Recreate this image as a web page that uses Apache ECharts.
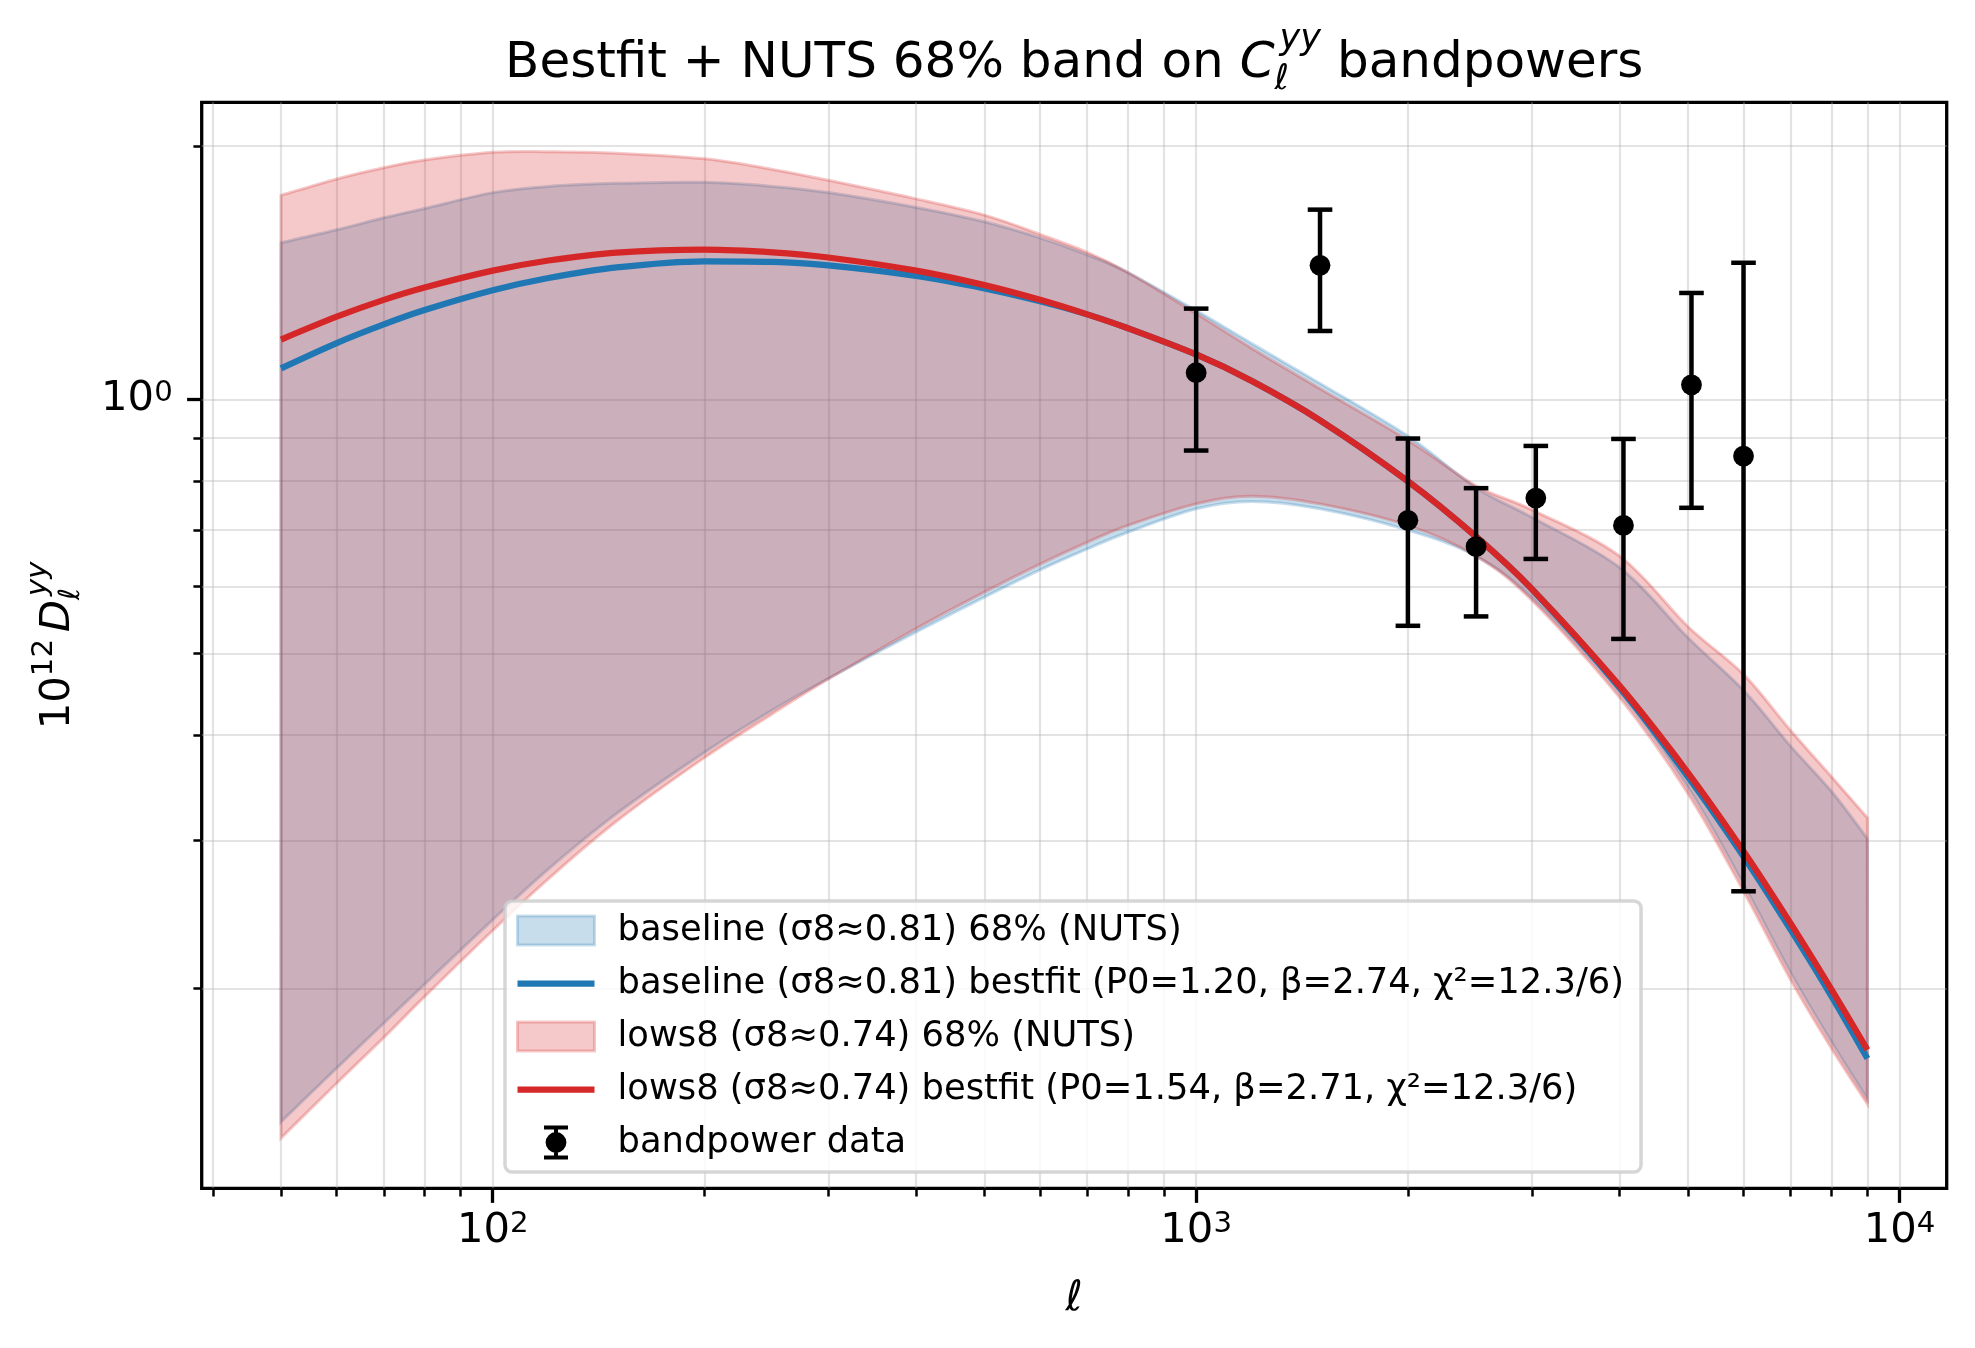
<!DOCTYPE html>
<html>
<head>
<meta charset="utf-8">
<title>Bestfit + NUTS 68% band</title>
<script src="https://cdn.jsdelivr.net/npm/echarts@6.0.0/dist/echarts.min.js"></script>
<style>
  html, body { margin: 0; padding: 0; background: #fff; }
  #chart { width: 1975px; height: 1348px; }
</style>
</head>
<body>
<div id="chart"></div>
<script>
// multipoles where the curves / bands were read
const ellGrid = [50, 60, 70, 80, 100, 120, 150, 200, 250, 300, 400, 500, 600, 700, 800, 1000, 1200, 1500, 2000, 2500, 3000, 4000, 5000, 6000, 7000, 8000, 9000]

// bestfit curves
const baseBest = [1.089, 1.167, 1.228, 1.277, 1.348, 1.394, 1.435, 1.459, 1.457, 1.443, 1.402, 1.355, 1.308, 1.262, 1.215, 1.131, 1.052, 0.945, 0.80, 0.6876, 0.596, 0.455, 0.357, 0.287, 0.235, 0.196, 0.1653]
const lowBest = [1.178, 1.254, 1.313, 1.358, 1.422, 1.462, 1.494, 1.506, 1.495, 1.474, 1.422, 1.367, 1.313, 1.262, 1.215, 1.131, 1.052, 0.945, 0.80, 0.6876, 0.5963, 0.4574, 0.361, 0.2912, 0.2391, 0.1997, 0.1693]

// 68% bands (NUTS)
const baseLo = [0.139, 0.161, 0.182, 0.2024, 0.2414, 0.2773, 0.3227, 0.3814, 0.4283, 0.4667, 0.530, 0.583, 0.628, 0.665, 0.696, 0.742, 0.757, 0.742, 0.70, 0.652, 0.582, 0.449, 0.347, 0.266, 0.209, 0.173, 0.148]
const baseHi = [1.535, 1.59, 1.643, 1.685, 1.76, 1.79, 1.805, 1.81, 1.79, 1.76, 1.69, 1.625, 1.555, 1.485, 1.415, 1.275, 1.165, 1.045, 0.905, 0.786, 0.725, 0.632, 0.522, 0.452, 0.388, 0.343, 0.3015]
const lowLo = [0.133, 0.1545, 0.175, 0.1957, 0.2345, 0.27, 0.316, 0.376, 0.424, 0.466, 0.535, 0.591, 0.638, 0.677, 0.709, 0.752, 0.768, 0.752, 0.709, 0.652, 0.578, 0.443, 0.341, 0.261, 0.205, 0.170, 0.146]
const lowHi = [1.747, 1.827, 1.884, 1.924, 1.965, 1.968, 1.96, 1.93, 1.875, 1.82, 1.73, 1.655, 1.57, 1.495, 1.415, 1.265, 1.15, 1.03, 0.895, 0.79, 0.74, 0.652, 0.538, 0.472, 0.405, 0.357, 0.319]

// bandpower data
const dataEll = [1000, 1500, 2000, 2500, 3040, 4050, 5060, 6000]
const dataVal = [1.076, 1.443, 0.719, 0.669, 0.764, 0.709, 1.041, 0.857]
const dataErr = [0.206, 0.237, 0.180, 0.116, 0.117, 0.189, 0.297, 0.596]

// ticks
const xMajor = [100, 1000, 10000]
const xMinor = [40, 50, 60, 70, 80, 90, 200, 300, 400, 500, 600, 700, 800, 900, 2000, 3000, 4000, 5000, 6000, 7000, 8000, 9000]
const yMajor = [1]
const yMinor = [0.2, 0.3, 0.4, 0.5, 0.6, 0.7, 0.8, 0.9, 2]

const names = [
  'baseline (σ8≈0.81) 68% (NUTS)',
  'baseline (σ8≈0.81) bestfit (P0=1.20, β=2.74, χ²=12.3/6)',
  'lows8 (σ8≈0.74) 68% (NUTS)',
  'lows8 (σ8≈0.74) bestfit (P0=1.54, β=2.71, χ²=12.3/6)',
  'bandpower data'
]

// plot box (px) and axis limits
const plot = { left: 201.7, top: 102.3, right: 1946.7, bottom: 1188.3 }
const xRange = [38.57, 11668]
const yRange = [0.11595, 2.2524]

const FONT = 'DejaVu Sans'
const BLUE = '#1f77b4'
const RED = '#d62728'
const gridLine = { color: 'rgba(176,176,176,0.35)', width: 2.2 }

// text measuring for the math-like labels
const mctx = document.createElement('canvas').getContext('2d')
const setFont = (size, italic) => {
  mctx.font = (italic ? 'italic ' : '') + size + 'px "' + FONT + '"'
}
const textWidth = (t, size, italic) => {
  setFont(size, italic)
  return mctx.measureText(t).width
}
const baseOffset = (size, italic) => {
  setFont(size, italic)
  mctx.textBaseline = 'middle'
  const d = mctx.measureText('H').actualBoundingBoxDescent
  mctx.textBaseline = 'alphabetic'
  return d
}
const piece = (t, x, baseY, size, italic) => ({
  type: 'text',
  x: x,
  y: baseY - baseOffset(size, italic),
  silent: true,
  style: {
    text: t, fontSize: size, fontFamily: FONT,
    fontStyle: italic ? 'italic' : 'normal',
    fill: '#000', align: 'left', verticalAlign: 'middle'
  }
})

// title: Bestfit + NUTS 68% band on C_l^yy bandpowers
const titleParts = () => {
  const s1 = 'Bestfit + NUTS 68% band on '
  const s2 = ' bandpowers'
  const fs = 50, ss = 35
  const w1 = textWidth(s1, fs)
  const wC = textWidth('C', fs, true)
  const wS = Math.max(textWidth('yy', ss, true) + 5, textWidth('ℓ', ss, true))
  const w2 = textWidth(s2, fs)
  const x0 = (plot.left + plot.right) / 2 - (w1 + wC + wS + w2) / 2
  const base = 76.7
  return [
    piece(s1, x0, base, fs),
    piece('C', x0 + w1, base, fs, true),
    piece('yy', x0 + w1 + wC + 5, base - 28, ss, true),
    piece('ℓ', x0 + w1 + wC, base + 12, ss, true),
    piece(s2, x0 + w1 + wC + wS, base, fs)
  ]
}

// y label: 10^12 D_l^yy (rotated)
const yLabel = () => {
  const fs = 41.7, ss = 29.2
  const w10 = textWidth('10', fs)
  const w12 = textWidth('12', ss)
  const gap = 7
  const wD = textWidth('D', fs, true)
  const wS = Math.max(textWidth('yy', ss, true) + 4, textWidth('ℓ', ss, true))
  let x = -(w10 + w12 + gap + wD + wS) / 2
  const kids = [piece('10', x, 0, fs)]
  x += w10
  kids.push(piece('12', x, -16.7, ss))
  x += w12 + gap
  kids.push(piece('D', x, 0, fs, true))
  x += wD
  kids.push(piece('yy', x + 4, -23.4, ss, true))
  kids.push(piece('ℓ', x, 10.4, ss, true))
  return { type: 'group', x: 69, y: (plot.top + plot.bottom) / 2, rotation: Math.PI / 2, children: kids }
}

const xLabel = () => {
  const w = textWidth('ℓ', 41.7, true)
  return piece('ℓ', (plot.left + plot.right) / 2 - w / 2, 1310, 41.7, true)
}

// smooth path through screen points
const curvePath = (pts, start) => {
  let d = (start ? 'M' : 'L') + pts[0][0] + ',' + pts[0][1]
  for (let i = 0; i < pts.length - 1; i++) {
    const p0 = pts[i - 1] || pts[i]
    const p1 = pts[i]
    const p2 = pts[i + 1]
    const p3 = pts[i + 2] || p2
    const c1 = [p1[0] + (p2[0] - p0[0]) / 6, p1[1] + (p2[1] - p0[1]) / 6]
    const c2 = [p2[0] - (p3[0] - p1[0]) / 6, p2[1] - (p3[1] - p1[1]) / 6]
    d += 'C' + c1 + ' ' + c2 + ' ' + p2
  }
  return d
}

const bandSeries = (name, lo, hi, rgb, z) => ({
  name: name,
  type: 'custom',
  z: z,
  data: ellGrid.map((l, i) => [l, lo[i], hi[i]]),
  encode: { x: 0, y: [1, 2] },
  renderItem: (params, api) => {
    if (params.dataIndex !== 0) return
    const upper = ellGrid.map((l, i) => api.coord([l, hi[i]]))
    const lower = ellGrid.map((l, i) => api.coord([l, lo[i]])).reverse()
    return {
      type: 'path',
      shape: { pathData: curvePath(upper, true) + curvePath(lower, false) + 'Z' },
      style: { fill: 'rgba(' + rgb + ',0.25)', stroke: 'rgba(' + rgb + ',0.25)', lineWidth: 3 }
    }
  }
})

const lineSeries = (name, vals, color, z) => ({
  name: name,
  type: 'line',
  z: z,
  data: ellGrid.map((l, i) => [l, vals[i]]),
  smooth: 0.3,
  showSymbol: false,
  lineStyle: { color: color, width: 6.25 },
  itemStyle: { color: color }
})

const capHalf = 12.3
const errStyle = { stroke: '#000', lineWidth: 4.5 }

const chart = echarts.init(document.getElementById('chart'), null, { renderer: 'canvas' })

const option = {
  animation: false,
  backgroundColor: '#fff',
  grid: {
    left: plot.left,
    top: plot.top,
    width: plot.right - plot.left,
    height: plot.bottom - plot.top,
    show: true,
    backgroundColor: 'transparent',
    borderColor: '#000',
    borderWidth: 3.3
  },
  xAxis: [
    {
      type: 'log',
      min: xRange[0],
      max: xRange[1],
      position: 'bottom',
      axisLine: { show: false },
      axisTick: { show: true, customValues: xMajor, length: 14.6, lineStyle: { color: '#000', width: 3.3 } },
      splitLine: { show: true, lineStyle: gridLine },
      axisLabel: {
        customValues: xMajor,
        margin: 22,
        formatter: v => '{b|10}{s|' + Math.round(Math.log10(v)) + '}',
        rich: {
          b: { fontSize: 41.7, fontFamily: FONT, color: '#000', lineHeight: 42 },
          s: { fontSize: 29.2, fontFamily: FONT, color: '#000', lineHeight: 17, verticalAlign: 'top' }
        }
      }
    },
    {
      type: 'log',
      min: xRange[0],
      max: xRange[1],
      position: 'bottom',
      axisLine: { show: false },
      axisLabel: { show: false },
      axisTick: { show: true, customValues: xMinor, length: 8.3, lineStyle: { color: '#000', width: 2.5 } },
      splitLine: { show: true, lineStyle: gridLine }
    }
  ],
  yAxis: [
    {
      type: 'log',
      min: yRange[0],
      max: yRange[1],
      position: 'left',
      axisLine: { show: false },
      axisTick: { show: true, customValues: yMajor, length: 14.6, lineStyle: { color: '#000', width: 3.3 } },
      splitLine: { show: true, lineStyle: gridLine },
      axisLabel: {
        customValues: yMajor,
        margin: 29,
        formatter: v => '{b|10}{s|' + Math.round(Math.log10(v)) + '}',
        rich: {
          b: { fontSize: 41.7, fontFamily: FONT, color: '#000', lineHeight: 42 },
          s: { fontSize: 29.2, fontFamily: FONT, color: '#000', lineHeight: 17, verticalAlign: 'top' }
        }
      }
    },
    {
      type: 'log',
      min: yRange[0],
      max: yRange[1],
      position: 'left',
      axisLine: { show: false },
      axisLabel: { show: false },
      axisTick: { show: true, customValues: yMinor, length: 8.3, lineStyle: { color: '#000', width: 2.5 } },
      splitLine: { show: true, lineStyle: gridLine }
    }
  ],
  legend: {
    orient: 'vertical',
    left: 505,
    top: 901,
    z: 20,
    selectedMode: false,
    itemWidth: 77,
    itemHeight: 34,
    itemGap: 18,
    padding: [12, 17, 12, 11],
    backgroundColor: 'rgba(255,255,255,0.8)',
    borderColor: 'rgba(204,204,204,0.8)',
    borderWidth: 3.5,
    borderRadius: 7,
    textStyle: { fontSize: 35.3, fontFamily: FONT, color: '#000', lineHeight: 34, padding: [0, 0, 0, 18] },
    data: [
      { name: names[0], icon: 'path://M0,0H77V29H0Z', itemStyle: { color: 'rgba(31,119,180,0.25)', borderColor: 'rgba(31,119,180,0.25)', borderWidth: 3 } },
      { name: names[1], icon: 'path://M0,0H77V6.25H0Z', itemStyle: { color: BLUE, borderWidth: 0 } },
      { name: names[2], icon: 'path://M0,0H77V29H0Z', itemStyle: { color: 'rgba(214,39,40,0.25)', borderColor: 'rgba(214,39,40,0.25)', borderWidth: 3 } },
      { name: names[3], icon: 'path://M0,0H77V6.25H0Z', itemStyle: { color: RED, borderWidth: 0 } },
      { name: names[4], icon: 'path://M0,0H24V4H14V30H24V34H0V30H10V4H0ZM22.4,17A10.4,10.4,0,1,1,1.6,17A10.4,10.4,0,1,1,22.4,17Z', itemStyle: { color: '#000', borderWidth: 0, opacity: 1 } }
    ]
  },
  graphic: titleParts().concat([yLabel(), xLabel()]),
  series: [
    bandSeries(names[0], baseLo, baseHi, '31,119,180', 1),
    bandSeries(names[2], lowLo, lowHi, '214,39,40', 2),
    lineSeries(names[1], baseBest, BLUE, 3),
    lineSeries(names[3], lowBest, RED, 4),
    {
      name: 'errorbars',
      type: 'custom',
      z: 5,
      data: dataEll.map((l, i) => [l, dataVal[i], dataErr[i]]),
      encode: { x: 0, y: 1 },
      renderItem: (params, api) => {
        const l = api.value(0)
        const v = api.value(1)
        const e = api.value(2)
        const top = api.coord([l, v + e])
        const bot = api.coord([l, v - e])
        return {
          type: 'group',
          children: [
            { type: 'line', shape: { x1: top[0], y1: top[1], x2: bot[0], y2: bot[1] }, style: errStyle },
            { type: 'line', shape: { x1: top[0] - capHalf, y1: top[1], x2: top[0] + capHalf, y2: top[1] }, style: errStyle },
            { type: 'line', shape: { x1: bot[0] - capHalf, y1: bot[1], x2: bot[0] + capHalf, y2: bot[1] }, style: errStyle }
          ]
        }
      }
    },
    {
      name: names[4],
      type: 'scatter',
      z: 6,
      symbol: 'circle',
      symbolSize: 20.8,
      itemStyle: { color: '#000', opacity: 1 },
      data: dataEll.map((l, i) => [l, dataVal[i]])
    }
  ]
}

chart.setOption(option)
</script>
</body>
</html>
